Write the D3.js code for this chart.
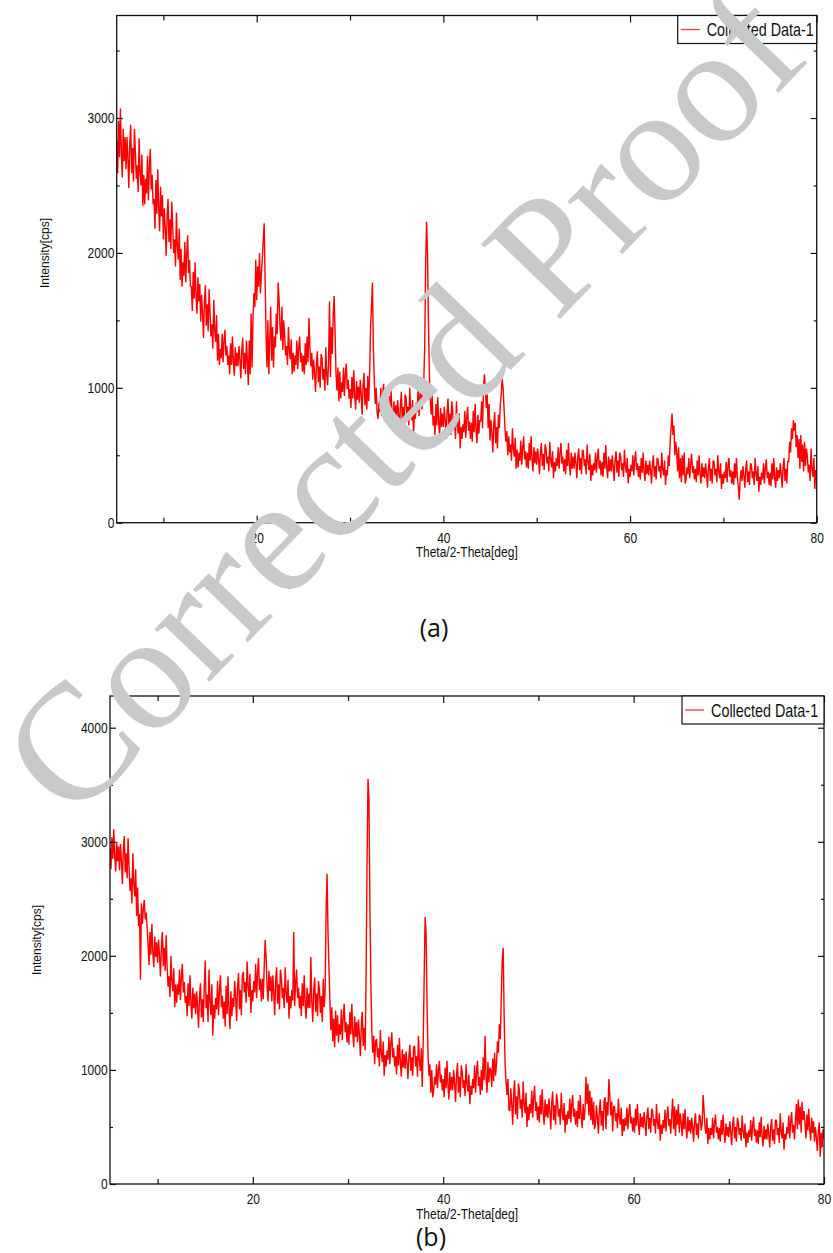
<!DOCTYPE html>
<html>
<head>
<meta charset="utf-8">
<script src="https://cdn.jsdelivr.net/npm/d3@7"></script>
<style>
  body { margin: 0; background: #fff; }
  svg { display: block; }
</style>
</head>
<body>
<svg width="833" height="1253"></svg>
<script>
// 2-theta grid of the scan (deg)
const thetaStart = 5;
const thetaStep = 0.1;

// intensity [cps], one row per degree (5.0 .. 79.9), last value at 80.0
const intensityA = [
  2830, 2590, 2980, 2710, 3070, 2740, 2560, 2920, 2680, 2860,
  2620, 2860, 2700, 2480, 2810, 2950, 2590, 2780, 2530, 2920,
  2750, 2550, 2650, 2450, 2850, 2600, 2500, 2730, 2350, 2580,
  2360, 2550, 2440, 2720, 2390, 2640, 2770, 2470, 2580, 2360,
  2400, 2180, 2540, 2290, 2620, 2320, 2160, 2490, 2270, 2430,
  2100, 2330, 2180, 1980, 2280, 2400, 2080, 2250, 2030, 2380,
  2200, 2000, 2100, 1900, 2300, 2050, 1950, 2180, 1800, 2030,
  1750, 1930, 1830, 2080, 1780, 2000, 2130, 1850, 1950, 1750,
  1750, 1570, 1860, 1660, 1930, 1680, 1550, 1820, 1640, 1770,
  1490, 1690, 1550, 1370, 1640, 1760, 1460, 1620, 1420, 1730,
  1560, 1380, 1470, 1290, 1650, 1430, 1340, 1540, 1200, 1400,
  1170, 1290, 1220, 1400, 1190, 1350, 1430, 1240, 1310, 1170,
  1240, 1100, 1330, 1170, 1380, 1190, 1090, 1300, 1160, 1260,
  1160, 1310, 1210, 1070, 1280, 1370, 1140, 1260, 1100, 1350,
  1200, 1020, 1350, 1100, 1550, 1150, 1500, 1700, 1600, 1950,
  1650, 1900, 1750, 2000, 1700, 1850, 1950, 2100, 2220, 1800,
  1400, 1150, 1500, 1100, 1350, 1600, 1200, 1450, 1150, 1380,
  1300, 1550, 1400, 1780, 1650, 1450, 1350, 1600, 1280, 1500,
  1380, 1240, 1310, 1170, 1450, 1280, 1210, 1360, 1100, 1260,
  1120, 1240, 1170, 1350, 1140, 1300, 1380, 1190, 1260, 1120,
  1240, 1100, 1330, 1170, 1380, 1190, 1520, 1300, 1160, 1260,
  1060, 1210, 1110, 970, 1180, 1270, 1040, 1160, 1000, 1250,
  1220, 1060, 1140, 980, 1300, 1100, 1020, 1200, 1640, 1080,
  1450, 1250, 1550, 1680, 1400, 1100, 980, 1150, 900, 1120,
  920, 1040, 970, 1150, 940, 1100, 1180, 990, 1060, 920,
  990, 850, 1080, 920, 1130, 940, 840, 1050, 910, 1010,
  890, 1060, 950, 800, 1020, 1110, 870, 1000, 840, 1090,
  900, 1100, 1450, 1600, 1780, 1300, 1050, 880, 1000, 820,
  770, 890, 820, 1000, 790, 950, 1030, 840, 910, 770,
  860, 730, 940, 790, 980, 810, 710, 900, 780, 870,
  760, 910, 810, 670, 880, 970, 740, 860, 700, 950,
  930, 790, 860, 720, 1000, 830, 760, 910, 650, 810,
  770, 890, 820, 1000, 790, 950, 1030, 840, 910, 1050,
  1300, 1900, 2230, 2000, 1500, 1100, 900, 800, 950, 720,
  790, 650, 880, 720, 930, 740, 640, 850, 710, 810,
  710, 860, 760, 620, 830, 920, 690, 810, 650, 900,
  830, 690, 760, 620, 900, 730, 660, 810, 550, 710,
  620, 730, 670, 830, 630, 780, 860, 680, 750, 620,
  740, 600, 830, 670, 880, 690, 590, 800, 660, 760,
  750, 900, 700, 1000, 1100, 1000, 850, 950, 700, 880,
  610, 760, 660, 520, 730, 820, 590, 710, 550, 800,
  700, 880, 950, 1070, 1000, 850, 700, 600, 680, 500,
  640, 520, 580, 460, 700, 550, 490, 630, 400, 540,
  410, 520, 460, 610, 430, 560, 640, 470, 530, 410,
  520, 400, 590, 460, 640, 470, 380, 560, 440, 530,
  430, 550, 470, 360, 530, 590, 420, 510, 390, 580,
  550, 440, 490, 380, 600, 470, 410, 530, 330, 450,
  380, 480, 420, 560, 400, 520, 590, 440, 490, 380,
  470, 360, 540, 420, 590, 430, 350, 520, 400, 490,
  400, 520, 440, 330, 490, 550, 390, 480, 360, 540,
  530, 420, 470, 360, 580, 450, 390, 510, 310, 430,
  350, 440, 390, 520, 370, 480, 550, 400, 460, 350,
  450, 340, 520, 400, 575, 410, 330, 490, 380, 470,
  380, 500, 420, 310, 470, 530, 370, 460, 340, 520,
  490, 390, 440, 340, 540, 420, 370, 480, 290, 400,
  340, 430, 380, 500, 350, 470, 530, 390, 440, 340,
  420, 320, 480, 370, 520, 380, 310, 460, 360, 430,
  350, 460, 390, 290, 440, 500, 340, 420, 320, 480,
  470, 380, 420, 330, 520, 400, 350, 460, 280, 390,
  350, 500, 420, 600, 700, 810, 650, 720, 500, 600,
  520, 380, 560, 330, 480, 300, 500, 350, 520, 290,
  320, 410, 360, 480, 330, 450, 510, 370, 420, 320,
  400, 300, 460, 350, 500, 360, 290, 440, 340, 410,
  330, 440, 360, 260, 410, 480, 310, 400, 290, 460,
  450, 350, 400, 300, 500, 380, 330, 440, 250, 360,
  290, 380, 330, 450, 300, 420, 480, 340, 390, 290,
  380, 280, 440, 330, 480, 340, 270, 170, 320, 390,
  310, 420, 350, 260, 400, 460, 300, 380, 280, 440,
  430, 330, 380, 280, 480, 360, 310, 420, 230, 340,
  280, 370, 320, 440, 290, 410, 470, 330, 380, 280,
  370, 270, 440, 320, 480, 330, 260, 410, 310, 390,
  330, 440, 360, 260, 410, 480, 310, 400, 290, 460,
  450, 600, 520, 700, 620, 760, 680, 740, 560, 650,
  480, 620, 400, 650, 450, 580, 380, 600, 420, 550,
  490, 370, 430, 310, 550, 400, 340, 480, 250, 390,
  350
];

const intensityB = [
  2940, 2760, 3040, 2850, 3110, 2870, 2740, 3000, 2830, 2960,
  2750, 2980, 2830, 2630, 2930, 3050, 2730, 2900, 2680, 3030,
  2790, 2570, 2680, 2460, 2900, 2630, 2520, 2760, 2350, 2600,
  2260, 2370, 1790, 2460, 2280, 2410, 2490, 2320, 2380, 2260,
  2100, 1920, 2210, 2010, 2280, 2030, 1900, 2170, 1990, 2120,
  1940, 2140, 2000, 1820, 2090, 2210, 1910, 2070, 1870, 2180,
  1910, 1730, 1820, 1640, 2000, 1780, 1690, 1890, 1550, 1750,
  1590, 1750, 1660, 1880, 1610, 1820, 1930, 1680, 1770, 1590,
  1650, 1470, 1760, 1560, 1830, 1580, 1450, 1720, 1540, 1670,
  1490, 1690, 1550, 1370, 1640, 1760, 1460, 1620, 1420, 1730,
  1960, 1540, 1660, 1420, 1880, 1600, 1480, 1750, 1300, 1570,
  1450, 1630, 1530, 1780, 1480, 1700, 1830, 1550, 1650, 1450,
  1600, 1380, 1740, 1490, 1820, 1520, 1360, 1690, 1470, 1630,
  1550, 1780, 1630, 1430, 1730, 1850, 1530, 1700, 1480, 1830,
  1860, 1680, 1770, 1590, 1950, 1730, 1640, 1840, 1500, 1700,
  1600, 1780, 1680, 1930, 1630, 1850, 1980, 1700, 1800, 1600,
  1800, 1620, 1910, 2140, 1980, 1730, 1600, 1870, 1690, 1820,
  1600, 1830, 1680, 1480, 1780, 1900, 1580, 1750, 1530, 1880,
  1810, 1630, 1720, 1540, 1900, 1680, 1590, 1790, 1450, 1650,
  1540, 1700, 1610, 2210, 1560, 1770, 1880, 1630, 1720, 1540,
  1650, 1470, 1760, 1560, 1830, 1580, 1450, 1720, 1540, 1670,
  1540, 1990, 1600, 1420, 1690, 1810, 1510, 1670, 1470, 1780,
  1700, 1500, 1650, 1420, 1800, 1550, 1700, 2400, 2720, 2200,
  1900, 1600, 1350, 1550, 1250, 1450, 1200, 1520, 1300, 1480,
  1240, 1400, 1310, 1530, 1260, 1470, 1580, 1330, 1420, 1240,
  1400, 1220, 1510, 1310, 1580, 1330, 1200, 1470, 1290, 1420,
  1240, 1440, 1300, 1120, 1390, 1510, 1210, 1370, 1170, 1830,
  2800, 3550, 3370, 2450, 1780, 1350, 1150, 1300, 1050, 1250,
  1270, 1110, 1190, 1030, 1350, 1150, 1070, 1250, 950, 1130,
  1030, 1170, 1090, 1290, 1050, 1230, 1330, 1110, 1190, 1030,
  1120, 960, 1220, 1040, 1280, 1060, 940, 1180, 1020, 1140,
  1010, 1160, 1060, 920, 1130, 1220, 990, 1110, 950, 1200,
  1210, 1030, 1120, 940, 1300, 1080, 990, 1190, 850, 1250,
  1800, 2340, 2200, 1600, 1150, 950, 1050, 800, 1000, 760,
  820, 940, 870, 1050, 840, 1000, 1080, 890, 960, 820,
  920, 760, 1020, 840, 1080, 860, 740, 980, 820, 940,
  820, 1000, 880, 720, 960, 1060, 800, 940, 760, 1040,
  980, 840, 910, 770, 1050, 880, 810, 960, 700, 860,
  780, 920, 840, 1040, 800, 980, 1080, 860, 940, 780,
  1000, 820, 1110, 910, 1300, 930, 800, 1070, 890, 1020,
  1000, 850, 1100, 900, 1150, 950, 1050, 1250, 1150, 1400,
  1270, 1630, 1960, 2070, 1480, 1050, 900, 780, 920, 650,
  640, 840, 700, 520, 790, 910, 610, 770, 570, 880,
  820, 660, 740, 580, 900, 700, 620, 800, 500, 680,
  560, 700, 620, 820, 580, 760, 860, 640, 720, 560,
  680, 540, 780, 610, 830, 630, 520, 740, 590, 700,
  580, 750, 640, 480, 710, 810, 560, 690, 520, 790,
  730, 590, 660, 520, 800, 630, 560, 710, 450, 610,
  520, 640, 570, 750, 540, 700, 780, 590, 660, 520,
  640, 500, 730, 570, 780, 590, 490, 700, 560, 660,
  940, 700, 880, 600, 820, 560, 760, 520, 720, 480,
  530, 690, 580, 440, 650, 740, 510, 640, 470, 730,
  760, 480, 720, 600, 920, 780, 600, 720, 460, 680,
  680, 550, 620, 490, 750, 590, 520, 670, 420, 570,
  460, 580, 510, 670, 480, 620, 700, 530, 590, 460,
  580, 450, 660, 510, 700, 530, 430, 620, 500, 590,
  490, 630, 540, 420, 600, 670, 480, 580, 450, 660,
  640, 510, 570, 440, 700, 540, 480, 620, 380, 520,
  440, 560, 490, 650, 460, 600, 680, 510, 570, 440,
  600, 750, 480, 680, 420, 650, 520, 700, 450, 620,
  540, 420, 620, 480, 660, 490, 400, 590, 460, 560,
  440, 580, 490, 370, 550, 620, 430, 530, 400, 610,
  590, 470, 530, 780, 650, 500, 440, 580, 350, 490,
  390, 490, 430, 580, 400, 530, 610, 450, 500, 390,
  490, 370, 560, 430, 610, 450, 360, 530, 420, 500,
  410, 550, 460, 340, 520, 590, 400, 500, 370, 580,
  540, 430, 490, 380, 600, 460, 400, 530, 320, 450,
  360, 470, 410, 560, 380, 510, 590, 420, 480, 360,
  470, 350, 540, 410, 590, 420, 330, 510, 390, 480,
  390, 530, 440, 320, 500, 570, 380, 480, 350, 560,
  560, 430, 490, 360, 620, 460, 400, 540, 300, 440,
  390, 500, 440, 600, 400, 550, 630, 450, 520, 390,
  560, 700, 480, 740, 520, 680, 450, 720, 560, 640,
  530, 400, 610, 470, 660, 480, 380, 580, 450, 550,
  370, 500, 410, 290, 470, 540, 240, 450, 320, 480,
  400
];

const xMajorTicks = [20, 40, 60, 80];
const xMinorTicks = [10, 30, 50, 70];
const yMajorTicksA = [0, 1000, 2000, 3000];
const yMajorTicksB = [0, 1000, 2000, 3000, 4000];
const legendLabel = "Collected Data-1";
const xTitle = "Theta/2-Theta[deg]";
const yTitle = "Intensity[cps]";
const captions = ["(a)", "(b)"];
const watermark = "Corrected Proof";

const svg = d3.select("svg");
const SQ = 0.8; // the original text is horizontally squeezed
const fmt = d3.format("d");

function drawPanel(p) {
  const g = svg.append("g");
  const x = d3.scaleLinear().domain([5, 80]).range([p.left, p.right]);
  const y = d3.scaleLinear().domain([0, p.yMax]).range([p.bottom, p.top]);

  const clipId = "clip" + p.id;
  g.append("clipPath").attr("id", clipId)
    .append("rect")
    .attr("x", p.left).attr("y", p.top)
    .attr("width", p.right - p.left).attr("height", p.bottom - p.top);

  // data line
  const line = d3.line()
    .x((d, i) => x(thetaStart + i * thetaStep))
    .y(d => y(d));
  g.append("path")
    .datum(p.data)
    .attr("clip-path", `url(#${clipId})`)
    .attr("fill", "none")
    .attr("stroke", "#ff0000")
    .attr("stroke-width", 1.4)
    .attr("stroke-linejoin", "bevel")
    .attr("d", line);

  const yMinor = d3.range(500, p.yMax, 1000);

  // axes, ticks pointing inward
  const axes = [
    [d3.axisBottom(x).tickValues(xMajorTicks).tickSize(-7).tickPadding(p.xPad).tickFormat(fmt), `translate(0,${p.bottom})`],
    [d3.axisBottom(x).tickValues(xMinorTicks).tickSize(-5).tickFormat(""), `translate(0,${p.bottom})`],
    [d3.axisTop(x).tickValues(xMajorTicks).tickSize(-7).tickFormat(""), `translate(0,${p.top})`],
    [d3.axisTop(x).tickValues(xMinorTicks).tickSize(-5).tickFormat(""), `translate(0,${p.top})`],
    [d3.axisLeft(y).tickValues(p.yTicks).tickSize(-6).tickPadding(3).tickFormat(fmt), `translate(${p.left},0)`],
    [d3.axisLeft(y).tickValues(yMinor).tickSize(-3).tickFormat(""), `translate(${p.left},0)`],
    [d3.axisRight(y).tickValues(p.yTicks).tickSize(-6).tickFormat(""), `translate(${p.right},0)`],
    [d3.axisRight(y).tickValues(yMinor).tickSize(-3).tickFormat(""), `translate(${p.right},0)`]
  ];
  axes.forEach(([ax, tr]) => {
    const a = g.append("g").attr("transform", tr).call(ax);
    a.select(".domain").remove();
    a.selectAll("line").attr("stroke", "#111").attr("stroke-width", 1.2);
    a.selectAll("text")
      .attr("font-family", "Liberation Sans, Arial, sans-serif")
      .attr("font-size", 15)
      .attr("fill", "#111")
      .attr("transform", `scale(${SQ},1)`);
  });

  // frame
  g.append("rect")
    .attr("x", p.left).attr("y", p.top)
    .attr("width", p.right - p.left).attr("height", p.bottom - p.top)
    .attr("fill", "none").attr("stroke", "#111").attr("stroke-width", 1.3);

  // axis titles
  g.append("text")
    .attr("transform", `translate(${(p.left + p.right) / 2},${p.xTitleY}) scale(${SQ},1)`)
    .attr("text-anchor", "middle")
    .attr("font-family", "Liberation Sans, Arial, sans-serif")
    .attr("font-size", 15)
    .attr("fill", "#111")
    .text(xTitle);

  g.append("text")
    .attr("transform", `translate(${p.yTitleX},${p.yTitleY}) rotate(-90)`)
    .attr("text-anchor", "middle")
    .attr("dominant-baseline", "central")
    .attr("font-family", "Liberation Sans, Arial, sans-serif")
    .attr("font-size", 12)
    .attr("fill", "#111")
    .text(yTitle);

  // legend
  const lg = g.append("g");
  lg.append("rect")
    .attr("x", p.right - p.legendW).attr("y", p.top)
    .attr("width", p.legendW).attr("height", 28)
    .attr("fill", "#fff").attr("stroke", "#111").attr("stroke-width", 1.2);
  lg.append("line")
    .attr("x1", p.right - p.legendW + 3).attr("x2", p.right - p.legendW + 22)
    .attr("y1", p.top + 14).attr("y2", p.top + 14)
    .attr("stroke", "#ff3333").attr("stroke-width", 1.3);
  lg.append("text")
    .attr("transform", `translate(${p.right - p.legendW + 29},${p.top + 20.5}) scale(${SQ},1)`)
    .attr("font-family", "Liberation Sans, Arial, sans-serif")
    .attr("font-size", 18)
    .attr("fill", "#111")
    .text(legendLabel);

  // panel caption
  g.append("text")
    .attr("x", p.capX).attr("y", p.capY)
    .attr("text-anchor", "middle")
    .attr("font-family", "Open Sans, sans-serif")
    .attr("font-size", 25)
    .attr("fill", "#111")
    .text(p.caption);
}

drawPanel({
  id: "a", data: intensityA, yTicks: yMajorTicksA, yMax: 3760,
  left: 116.7, right: 816.7, top: 15.5, bottom: 522.7,
  xPad: 10, xTitleY: 557, yTitleX: 45, yTitleY: 253,
  legendW: 139, caption: captions[0], capX: 434, capY: 637
});

drawPanel({
  id: "b", data: intensityB, yTicks: yMajorTicksB, yMax: 4278,
  left: 110, right: 824, top: 696, bottom: 1184,
  xPad: 9.5, xTitleY: 1219, yTitleX: 37, yTitleY: 940,
  legendW: 142, caption: captions[1], capX: 431, capY: 1246
});

// watermark on top of everything
svg.append("text")
  .attr("transform", "translate(402,402) rotate(-46)")
  .attr("text-anchor", "middle")
  .attr("dominant-baseline", "central")
  .attr("font-family", "Liberation Serif, Times New Roman, serif")
  .attr("font-size", 166)
  .attr("fill", "#c8c9cb")
  .text(watermark);
</script>
</body>
</html>
